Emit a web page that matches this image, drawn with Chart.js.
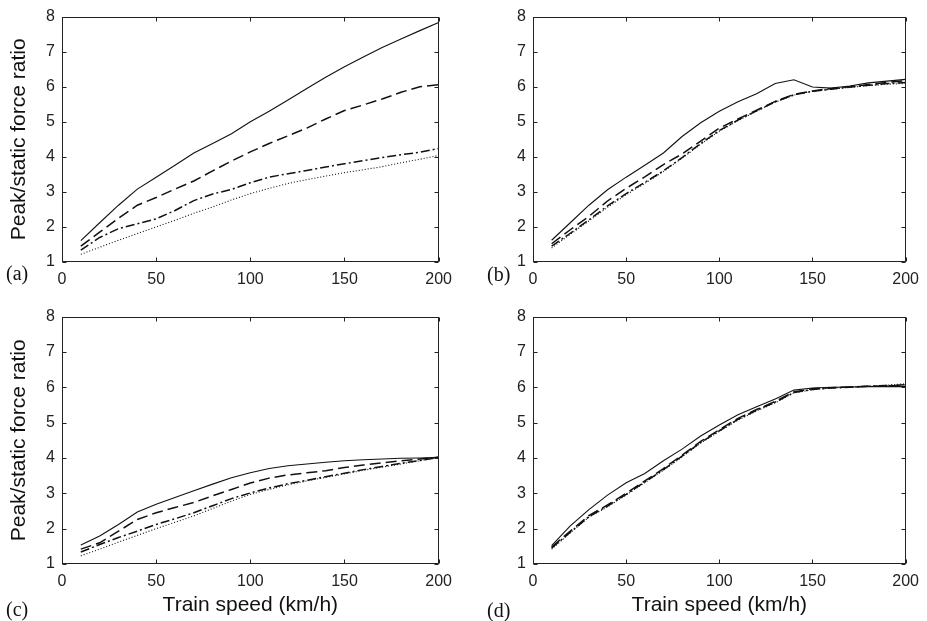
<!DOCTYPE html>
<html>
<head>
<meta charset="utf-8">
<script src="https://cdn.jsdelivr.net/npm/chart.js@4/dist/chart.umd.min.js"></script>
<style>
  html,body{margin:0;padding:0;background:#fff;}
  body{width:927px;height:621px;position:relative;overflow:hidden;}
  .pan{position:absolute;}
  .lab{position:absolute;font-family:"Liberation Serif","Times New Roman",serif;font-size:20px;color:#111;line-height:1;}
</style>
</head>
<body>
<div class="pan" style="left:0;top:0;width:460px;height:310px"><canvas id="ca"></canvas></div>
<div class="pan" style="left:460px;top:0;width:467px;height:310px"><canvas id="cb"></canvas></div>
<div class="pan" style="left:0;top:300px;width:460px;height:321px"><canvas id="cc"></canvas></div>
<div class="pan" style="left:460px;top:300px;width:467px;height:321px"><canvas id="cd"></canvas></div>
<div class="lab" style="left:6px;top:263px">(a)</div>
<div class="lab" style="left:487px;top:264px">(b)</div>
<div class="lab" style="left:6px;top:599px">(c)</div>
<div class="lab" style="left:487px;top:600px">(d)</div>
<script>
// ---- data ----
const speeds = [10,20,30,40,50,60,70,80,90,100,110,120,130,140,150,160,170,180,190,200];
const xTicks = [0,50,100,150,200];
const yTicks = [1,2,3,4,5,6,7,8];

const aSolid   = [1.61,2.12,2.62,3.08,3.42,3.76,4.11,4.38,4.66,5.00,5.30,5.62,5.95,6.27,6.57,6.85,7.12,7.36,7.60,7.83];
const aDashed  = [1.45,1.85,2.25,2.62,2.84,3.08,3.31,3.60,3.88,4.14,4.38,4.60,4.82,5.08,5.32,5.48,5.65,5.84,6.00,6.06];
const aDashDot = [1.34,1.70,1.95,2.09,2.23,2.47,2.75,2.94,3.07,3.26,3.42,3.52,3.61,3.71,3.80,3.89,3.98,4.06,4.13,4.24];
const aDotted  = [1.22,1.42,1.62,1.81,2.00,2.19,2.39,2.57,2.77,2.95,3.10,3.24,3.35,3.45,3.55,3.63,3.72,3.83,3.93,4.04];

const bSolid   = [1.62,2.12,2.62,3.06,3.42,3.76,4.11,4.58,4.97,5.30,5.57,5.80,6.09,6.20,5.99,5.96,6.02,6.11,6.16,6.21];
const bDashed  = [1.52,1.92,2.30,2.74,3.10,3.43,3.78,4.08,4.45,4.82,5.08,5.33,5.58,5.78,5.88,5.95,6.00,6.06,6.12,6.17];
const bDashDot = [1.45,1.82,2.20,2.60,2.95,3.27,3.60,3.98,4.38,4.75,5.05,5.31,5.57,5.77,5.87,5.93,5.99,6.04,6.09,6.12];
const bDotted  = [1.40,1.79,2.17,2.56,2.92,3.24,3.58,3.96,4.36,4.73,5.03,5.30,5.56,5.76,5.87,5.93,5.98,6.03,6.07,6.09];

const cSolid   = [1.54,1.79,2.12,2.47,2.69,2.88,3.07,3.26,3.44,3.58,3.70,3.78,3.83,3.88,3.92,3.95,3.97,3.99,4.00,4.02];
const cDashed  = [1.42,1.60,1.93,2.26,2.45,2.60,2.74,2.93,3.11,3.29,3.43,3.52,3.58,3.64,3.73,3.80,3.86,3.92,3.97,4.02];
const cDashDot = [1.34,1.55,1.75,1.93,2.12,2.28,2.45,2.65,2.85,3.01,3.15,3.27,3.37,3.47,3.57,3.67,3.76,3.85,3.93,4.02];
const cDotted  = [1.23,1.42,1.62,1.81,2.00,2.18,2.36,2.57,2.78,2.97,3.11,3.24,3.35,3.45,3.55,3.65,3.74,3.83,3.92,4.01];

const dSolid   = [1.52,2.08,2.54,2.95,3.30,3.56,3.92,4.25,4.62,4.93,5.22,5.45,5.67,5.92,5.98,6.00,6.01,6.02,6.02,6.02];
const dDashed  = [1.48,1.93,2.37,2.67,3.00,3.35,3.70,4.08,4.47,4.80,5.12,5.37,5.60,5.87,5.96,5.99,6.01,6.03,6.04,6.05];
const dDashDot = [1.45,1.90,2.34,2.64,2.97,3.32,3.67,4.05,4.44,4.77,5.09,5.35,5.58,5.85,5.94,5.98,6.00,6.03,6.05,6.07];
const dDotted  = [1.42,1.88,2.32,2.62,2.95,3.30,3.65,4.03,4.42,4.75,5.07,5.33,5.56,5.84,5.93,5.98,6.00,6.03,6.06,6.10];

const yTitle = 'Peak/static force ratio';
const xTitle = 'Train speed (km/h)';

// ---- drawing ----
const FONT = '"Liberation Sans", Arial, Helvetica, sans-serif';
const INK = '#111';

const boxPlugin = {
  id: 'matlabBox',
  afterDatasetsDraw(chart) {
    const {ctx, chartArea: a, scales: {x, y}} = chart;
    ctx.save();
    ctx.strokeStyle = '#222';
    ctx.lineWidth = 1;
    const L = Math.round(a.left) + 0.5, R = Math.round(a.right) - 0.5;
    const T = Math.round(a.top) + 0.5, B = Math.round(a.bottom) - 0.5;
    ctx.strokeRect(L, T, R - L, B - T);
    const tl = 4;
    ctx.beginPath();
    x.ticks.forEach(t => {
      const px = Math.round(x.getPixelForValue(t.value)) + 0.5;
      ctx.moveTo(px, B); ctx.lineTo(px, B - tl);
      ctx.moveTo(px, T); ctx.lineTo(px, T + tl);
    });
    y.ticks.forEach(t => {
      const py = Math.round(y.getPixelForValue(t.value)) + 0.5;
      ctx.moveTo(L, py); ctx.lineTo(L + tl, py);
      ctx.moveTo(R, py); ctx.lineTo(R - tl, py);
    });
    ctx.stroke();
    ctx.restore();
  }
};

function makeDatasets(s, d, dd, dt) {
  const pts = arr => speeds.map((v, i) => ({x: v, y: arr[i]}));
  return [
    {data: pts(s),  borderColor: INK, borderWidth: 1.1, pointRadius: 0, tension: 0},
    {data: pts(d),  borderColor: INK, borderWidth: 1.5, borderDash: [11, 5], pointRadius: 0, tension: 0},
    {data: pts(dd), borderColor: INK, borderWidth: 1.5, borderDash: [9, 3, 2, 3], pointRadius: 0, tension: 0},
    {data: pts(dt), borderColor: INK, borderWidth: 1.1, borderDash: [1, 2], pointRadius: 0, tension: 0}
  ];
}

function makeChart(id, W, H, area, series, showY, showX) {
  const cv = document.getElementById(id);
  cv.width = W; cv.height = H;
  cv.style.width = W + 'px'; cv.style.height = H + 'px';
  return new Chart(cv, {
    type: 'line',
    data: {datasets: makeDatasets(...series)},
    options: {
      responsive: false,
      animation: false,
      devicePixelRatio: 1,
      layout: {padding: {left: 0, top: area.t, right: W - area.r, bottom: 0}},
      plugins: {legend: {display: false}, tooltip: {enabled: false}},
      scales: {
        x: {
          type: 'linear', min: 0, max: 200,
          afterBuildTicks: s => { s.ticks = xTicks.map(v => ({value: v})); },
          afterFit: s => { s.height = H - area.b; },
          grid: {display: false, drawTicks: false},
          border: {display: false},
          ticks: {color: '#222', font: {family: FONT, size: 16}, padding: 8, maxRotation: 0},
          title: {display: showX, text: xTitle, color: '#111', font: {family: FONT, size: 21}, padding: {top: 0, bottom: 3}}
        },
        y: {
          type: 'linear', min: 1, max: 8,
          afterBuildTicks: s => { s.ticks = yTicks.map(v => ({value: v})); },
          afterFit: s => { s.width = area.l; },
          grid: {display: false, drawTicks: false},
          border: {display: false},
          ticks: {color: '#222', font: {family: FONT, size: 16}, padding: 7},
          title: {display: showY, text: yTitle, color: '#111', font: {family: FONT, size: 21}, padding: {top: 7, bottom: 0}}
        }
      }
    },
    plugins: [boxPlugin]
  });
}

makeChart('ca', 460, 310, {l: 62, t: 14, r: 442, b: 262}, [aSolid, aDashed, aDashDot, aDotted], true, false);
makeChart('cb', 467, 310, {l: 73, t: 14, r: 451, b: 262}, [bSolid, bDashed, bDashDot, bDotted], false, false);
makeChart('cc', 460, 321, {l: 62, t: 16, r: 442, b: 264}, [cSolid, cDashed, cDashDot, cDotted], true, true);
makeChart('cd', 467, 321, {l: 73, t: 16, r: 451, b: 264}, [dSolid, dDashed, dDashDot, dDotted], false, true);
</script>
</body>
</html>
